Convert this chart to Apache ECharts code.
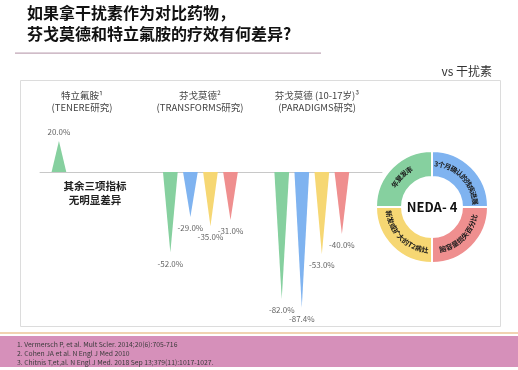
<!DOCTYPE html>
<html><head><meta charset="utf-8">
<script src="https://cdn.jsdelivr.net/npm/echarts@6/dist/echarts.min.js"></script>
<style>html,body{margin:0;padding:0;background:#fff}#c{width:518px;height:370px}</style>
</head><body><div id="c"></div>
<script>
const titleLines = ['如果拿干扰素作为对比药物，', '芬戈莫德和特立氟胺的疗效有何差异?'];
const compareLabel = 'vs 干扰素';
const studyNames = ['特立氟胺¹', '芬戈莫德²', '芬戈莫德 (10-17岁)³'];
const studyTrials = ['(TENERE研究)', '(TRANSFORMS研究)', '(PARADIGMS研究)'];
const metrics = ['年复发率', '3个月确认的残疾进展', '新发或扩大的T2病灶', '脑容量损失百分比'];
const relapseRate = [20.0, -52.0, -82.0];
const disability = [null, -29.0, -87.4];
const t2Lesions = [null, -35.0, -53.0];
const brainVolume = [null, -31.0, -40.0];
const noteText = ['其余三项指标', '无明显差异'];
const centerText = 'NEDA- 4';
const references = [
  '1. Vermersch P, et al. Mult Scler. 2014;20(6):705-716',
  '2. Cohen JA et al. N Engl J Med 2010',
  '3. Chitnis T,et,al. N Engl J Med. 2018 Sep 13;379(11):1017-1027.'
];

const colors = ['#86d09f', '#7fb3f0', '#f6d773', '#ef8f8f'];
const seriesValues = [relapseRate, disability, t2Lesions, brainVolume];
const FONT = '"Noto Sans CJK SC", "Noto Sans", sans-serif';

const chart = echarts.init(document.getElementById('c'), null, {renderer: 'canvas'});

function makeTriSeries(m) {
  const data = [];
  seriesValues[m].forEach((v, g) => { if (v !== null) data.push([g, v]); });
  return {
    type: 'custom',
    name: metrics[m],
    coordinateSystem: 'cartesian2d',
    data: data,
    renderItem: function (params, api) {
      const g = api.value(0), v = api.value(1);
      const unit = api.size([1, 0])[0];
      const off = (m - 1.5) * unit * 0.18;
      const base = api.coord([g, 0]);
      const tip = api.coord([g, v]);
      const cx = base[0] + off;
      const hw = unit * 0.066;
      const labelY = v >= 0 ? tip[1] - 9 : tip[1] + 11;
      return {
        type: 'group',
        children: [
          {type: 'polygon', shape: {points: [[cx - hw, base[1]], [cx + hw, base[1]], [cx, tip[1]]]},
           style: {fill: colors[m]}},
          {type: 'text', style: {text: v.toFixed(1) + '%', x: cx, y: labelY, align: 'center', verticalAlign: 'middle',
            fill: '#666', font: '8px ' + FONT}}
        ]
      };
    },
    z: 3
  };
}

// donut curved labels
const dcx = 432, dcy = 207, rIn = 30, rOut = 56, rMid = 43.5;
function charW(ch, fs) { return /[\x00-\x7f]/.test(ch) ? fs * 0.6 : fs; }
function arcText(text, centerDeg, clockwise, fs) {
  const chars = text.split('');
  const widths = chars.map(c => charW(c, fs) * 0.95);
  const total = widths.reduce((a, b) => a + b, 0);
  const totalAng = total / rMid;
  const els = [];
  let acc = 0;
  const cRad = centerDeg * Math.PI / 180;
  chars.forEach((c, i) => {
    const mid = acc + widths[i] / 2;
    acc += widths[i];
    const d = mid / rMid - totalAng / 2;
    const th = clockwise ? cRad - d : cRad + d;
    const x = dcx + rMid * Math.cos(th);
    const y = dcy - rMid * Math.sin(th);
    const rot = clockwise ? th - Math.PI / 2 : th + Math.PI / 2;
    els.push({type: 'text', x: x, y: y, rotation: rot, z: 10,
      style: {text: c, fill: '#1a1a1a', font: 'bold ' + fs + 'px ' + FONT, align: 'center', verticalAlign: 'middle'}});
  });
  return els;
}

const graphics = [];
// title
titleLines.forEach((t, i) => graphics.push({type: 'text', left: 27, top: 5 + i * 21,
  style: {text: t, fill: '#111', font: 'bold 16px ' + FONT}}));
graphics.push({type: 'rect', shape: {x: 15, y: 52.5, width: 306, height: 1.2}, style: {fill: '#c0a6b6'}});
graphics.push({type: 'text', x: 492, y: 71, style: {text: compareLabel, fill: '#333', font: '12px ' + FONT, align: 'right', verticalAlign: 'middle'}});
// panel box
graphics.push({type: 'rect', shape: {x: 20.5, y: 80.5, width: 480, height: 246}, style: {fill: 'none', stroke: '#dcdcdc', lineWidth: 1}, z: -1});
// study labels
const studyCenters = [82, 200, 317];
studyNames.forEach((s, i) => {
  graphics.push({type: 'text', x: studyCenters[i], y: 95, style: {text: s, fill: '#444', font: '9.5px ' + FONT, align: 'center', verticalAlign: 'middle'}});
  graphics.push({type: 'text', x: studyCenters[i], y: 107, style: {text: studyTrials[i], fill: '#444', font: '9.5px ' + FONT, align: 'center', verticalAlign: 'middle'}});
});
// note
noteText.forEach((t, i) => graphics.push({type: 'text', x: 95, y: 186 + i * 14,
  style: {text: t, fill: '#222', font: 'bold 10.5px ' + FONT, align: 'center', verticalAlign: 'middle'}}));
// center text
graphics.push({type: 'text', x: dcx, y: dcy, z: 10, style: {text: centerText, fill: '#111', font: 'bold 13px ' + FONT, align: 'center', verticalAlign: 'middle'}});
// arc labels
graphics.push(...arcText(metrics[0], 135, true, 7));
graphics.push(...arcText(metrics[1], 45, true, 7));
graphics.push(...arcText(metrics[2], 225, false, 7));
graphics.push(...arcText(metrics[3], 315, false, 7));
// footer
graphics.push({type: 'rect', shape: {x: 0, y: 332, width: 518, height: 2}, style: {fill: '#f1d3b2'}});
graphics.push({type: 'rect', shape: {x: 0, y: 336, width: 518, height: 31}, style: {fill: '#d690ba'}});
references.forEach((r, i) => graphics.push({type: 'text', x: 17, y: 344 + i * 9,
  style: {text: r, fill: '#3a3a3a', font: '6.8px ' + FONT, verticalAlign: 'middle'}}));

const option = {
  backgroundColor: '#fff',
  animation: false,
  grid: {left: 40, width: 342, top: 125.5, height: 201.5},
  xAxis: {type: 'value', min: -0.44, max: 2.63, axisLine: {onZero: true, lineStyle: {color: '#c8c8c8', width: 1}},
    axisTick: {show: false}, axisLabel: {show: false}, splitLine: {show: false}},
  yAxis: {type: 'value', min: -100, max: 30, show: false, splitLine: {show: false}},
  series: [
    makeTriSeries(0), makeTriSeries(1), makeTriSeries(2), makeTriSeries(3),
    {
      type: 'pie', center: [dcx, dcy], radius: [rIn, rOut], startAngle: 90, clockwise: true,
      label: {show: false}, labelLine: {show: false}, silent: true,
      itemStyle: {borderColor: '#fff', borderWidth: 2},
      data: [
        {name: metrics[1], value: 1, itemStyle: {color: colors[1]}},
        {name: metrics[3], value: 1, itemStyle: {color: colors[3]}},
        {name: metrics[2], value: 1, itemStyle: {color: colors[2]}},
        {name: metrics[0], value: 1, itemStyle: {color: colors[0]}}
      ]
    }
  ],
  graphic: graphics
};
chart.setOption(option);
</script></body></html>
